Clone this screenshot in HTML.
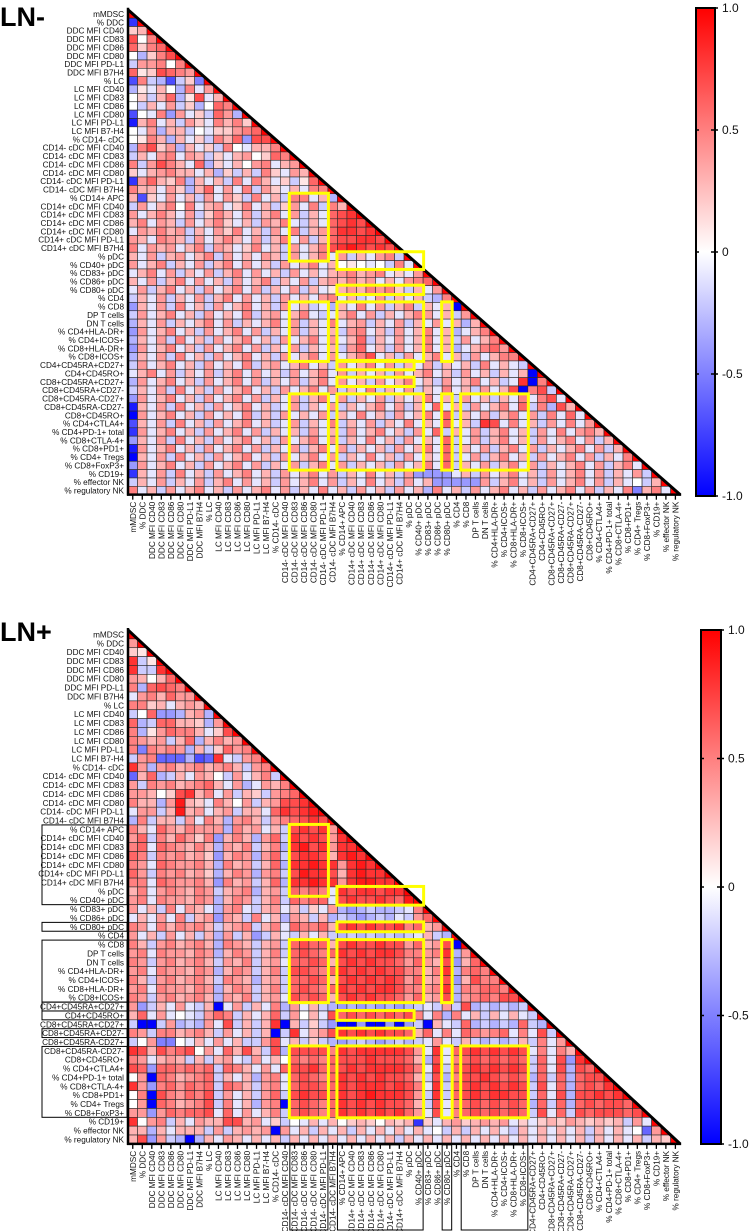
<!DOCTYPE html>
<html><head><meta charset="utf-8">
<style>
html,body{margin:0;padding:0;background:#fff;}
svg{display:block;font-family:"Liberation Sans",Arial,sans-serif;}
</style></head>
<body>
<svg id="fig" width="752" height="1231" viewBox="0 0 752 1231" xmlns="http://www.w3.org/2000/svg">
<defs>
<linearGradient id="cbar" x1="0" y1="0" x2="0" y2="1">
<stop offset="0" stop-color="#ff0000"/><stop offset="0.5" stop-color="#ffffff"/><stop offset="1" stop-color="#0000ff"/>
</linearGradient>
</defs>
<text x="0" y="26" font-size="27" font-weight="bold">LN-</text>
<text x="0" y="641" font-size="27" font-weight="bold">LN+</text>
</svg>
<script>
const labels = ["mMDSC","% DDC","DDC MFI CD40","DDC MFI CD83","DDC MFI CD86","DDC MFI CD80","DDC MFI PD-L1","DDC MFI B7H4","% LC","LC MFI CD40","LC MFI CD83","LC MFI CD86","LC MFI CD80","LC MFI PD-L1","LC MFI B7-H4","% CD14- cDC","CD14- cDC MFI CD40","CD14- cDC MFI CD83","CD14- cDC MFI CD86","CD14- cDC MFI CD80","CD14- cDC MFI PD-L1","CD14- cDC MFI B7H4","% CD14+ APC","CD14+ cDC MFI CD40","CD14+ cDC MFI CD83","CD14+ cDC MFI CD86","CD14+ cDC MFI CD80","CD14+ cDC MFI PD-L1","CD14+ cDC MFI B7H4","% pDC","% CD40+ pDC","% CD83+ pDC","% CD86+ pDC","% CD80+ pDC","% CD4","% CD8","DP T cells","DN T cells","% CD4+HLA-DR+","% CD4+ICOS+","% CD8+HLA-DR+","% CD8+ICOS+","CD4+CD45RA+CD27+","CD4+CD45RO+","CD8+CD45RA+CD27+","CD8+CD45RA+CD27-","CD8+CD45RA-CD27+","CD8+CD45RA-CD27-","CD8+CD45RO+","% CD4+CTLA4+","% CD4+PD-1+ total","% CD8+CTLA-4+","% CD8+PD1+","% CD4+ Tregs","% CD8+FoxP3+","% CD19+","% effector NK","% regulatory NK"];

// value codes: '0'-'9' => 0.0..0.9, 'X' => 1.0, 'a'-'j' => -0.1..-1.0 ; row r holds r off-diagonal cells
const lnMinusRows = ["h","23","705","6256","0c257","b4450 5","61276 54","g5bcg b2e","c1a30 c5a4","02b36 c17a3",
"0b3a4 b2c06 5","g0a5d 4a2b6 4c","i35a3 b42a5 352","0a4c3 3b0a2 2456","0153c 3a2b5 36d77","c5724 c3a2b 50a33 5","b3a45 a43b2 a3402 65","5b475 3a6c2 a3045 a34","2a345 33a3c 2b3b5 2a43","h4632 5c3a3 b5a53 a2b16",
"533a4 2c36a 4a5b4 2a3a5 5","3g2a4 a3b4a 42b5a 3b55a 3c","b4a35 05a34 a25a3 b24a5 b53","4a353 a4b25 3a4b3 5a4b3 a678","35a43 b4a35 2a3b4 35ab3 a6787","a4353 4b3a4 25a3b 4a5b3 46887 8","43a54 3b4a3 53a4b 35a4b 36778 87","5a434 a35b4 3a25a 3b4a3 57898 787","3a4b3 4a35b 4a3a4 3b4a3 5a4b3 a45b","4a35b 3a4b3 5a4a3 b4a35 a3010 a0b5a",
"a35a4 b3a4b 35a4a 3b4a3 a3453 45a2a 4","3a4b3 5a4a3 b4a35 b3a4b 34353 4a3a4 56","a4b35 a3b4a 35a4b 3a4b3 a1343 5452b 3a4","b3a4b 3a4b3 5a4a3 b4a3a 45a3b a4b3a 3bc5","d3a4b 5a3b4 a35a3 b4a3b ac3a5 a4b35 b3a3j","b4a35 a3b4a 3a5b3 4a35a ba35a 4b3a3 54a3b 4","c3a4b 3a35a 4b3a3 5a4b3 a5a34 b3a4b 3a4a3 c3","d4a35 a3b4a 35a4b 3a4b3 a3b45 a3b4a 35a3c a35","c3a4b 5a3b4 a35a3 b4a35 a4a36 b3a4a 35a3b 4a35","d4a35 a3b4a 35a4b 3a4b3 a3b46 a3b4a 35a3c a3564",
"c3a4b 5a3b4 a35a3 b4a35 a4a35 7a3b4 a35a3 b4a35 5","b4a35 a3b4a 3a5b3 4a35a 3b4a3 5a4b3 a4b3a 3b5a3 ab","a35a4 b3a4b 35a4a 3b4a3 5a4b3 a3b4a 35a3b 4a3b3 a3j","c4a35 a3b4a 35a4b 3a4b3 5a4a3 b4a35 a3b4a 35a3b a8j5","b3a4b 5a3b4 a35a3 b4a35 a4b3a 5b3a4 b3a5a 3b4a3 7j57b","d4a35 a3b4a 35a4b 3a4b3 5a4b3 a4b3a 35a3b 4a3b3 a5a57 a","i3a4b 5a3b4 a35a3 ba4b3 a4b3a 35a4b 3a6a3 b4a35 a6b5c 73","j4a35 a3b4a 3a5b3 b4a3a 4b3a5 a3b4a 35a6b 3a4b3 5a4b5 a6a","g3a4b 5a3b4 a35a3 ba4b3 a5b3a 4b3a5 a3a6a 3b87a 5a3b4 a5a4","h4a35 a3b4a 35a4b 3a3b4 a3b4a 35a3b 4a6b3 a4b35 a3b4a 5a453",
"d3a4b 5a3b4 a35a3 b4a35 a4b3a 5a3b4 a3a6b a4b35 a3b4a 35a4b 3","i4a35 a3b4a 35a4b 3a4b3 5a4b3 a3b4a 35a6b 3a4b3 5a4b3 a35a4 b3","j3a4b 5a3b4 a35a3 b4a35 a4b3a 5a3b4 a3a6b a4b35 a3b4a 35a4b 3a5","d4a35 a3b4a 35a4b 3a4b3 5a4b3 a3b4a 35a6b 3a4b3 5a4b3 a35a4 b35a","h3a4b 5a3b4 a35a3 b4a35 a4b3a 5a3b4 dddda 3b4a3 5a3b4 a35a4 b3a4b","b3a4b 3a4b3 5a4a3 b4a35 a4b3a 5a3b4 a3ddd dd4b3 5a3b4 a35a4 b3a0b 3","5a3b4 a35a3 b4a35 a4b3a 5a3b4 a3b4a 3c5a3 b4a35 a3b4a 35a4b 3a5e3 5a"];

const lnPlusRows = ["4","21","8b1","8bb8","43036","5c676 5","a4536 44","5523a 343","b06dd c34c","6cb66 332c4",
"5c146 553a2 7","5434b 36c35 34","5e545 4c3b2 645","b45ff fcgf8 ab45","84c45 34534 53b45","f36cb 3a430 b4a35 b","4b545 34563 a4ca4 35","44302 7835a 4b32b 456","533c4 932a5 304b3 4778","a44b3 934a3 4b33a 68789",
"c5b33 b4a53 c453b 45678 7","53a64 35444 c534a 3b787 84","46b53 6425d 353c4 6b878 748","56a65 4353c 435b3 5c897 8488","65b54 5342d 354c4 6b788 73898","54a65 4453c 534b3 6c889 88489 8","64b54 5342c 354c4 5b798 87389 88","55a65 4453d 534b3 6c889 88489 988","35a45 4354b 345c3 4b656 5a878 8788","45a54 4354c 354b3 5b656 6a787 78769",
"4a3b5 a43ac 45ab3 4a3b2 a4cdc bccba 5","a3a4a 5b34d 43b5a 3c43b 3cbcd cbcab 46","54a53 5453b 345b3 5a655 63787 87785 634","4a3b4 a3b3c 4b3db 3ab3a 3bcbc bcbcb a3bc","53b45 3453c 543b3 4b676 63787 78774 6347j","45a54 4354c 354b3 5b676 56878 78875 5458c 4","54b45 3453b 435b3 4a667 63787 87764 6437d 36","45a54 4354c 354b3 5b776 56878 78775 5358c 565","53b45 3453b 543c3 4b667 63787 87874 6347d 3755","45a54 4354c 354b3 5b676 56878 78875 5458c 55665",
"54b45 3453c 435b3 4a767 63787 87764 6347c 45657 7","4db3a 4ab3j a4b3a 5c4a3 bcdcd cdcdc bab4b 7cbcb cb","36a4a 0ab46 5b3a3 6b403 a7676 76767 5a5c5 a3b3a 3ab","bjjb4 cbc4a 7b3b3 8j3b2 bdjjd jjdjd bj3ab 6cbcb c6bc","54b55 3453b 4a3b3 jb8a3 47878 78776 36a5a 65456 a5a7b","b04ee 0a3a4 a3bb4 7a3b2 bcdcb cdcbc ba4ab 3bcbc b3b5a 4","87375 6704a 6373b 7c777 75878 88887 4a8a6 78787 87a5a 53","54a34 3b3b3 4ab4a 30656 56777 87776 3c7a5 67676 76b6a 7d8","76d66 5656b 653a4 a6778 66787 88887 5a8b6 78787 87b6a 7c76","04j65 3456b 3a3c4 5a676 56878 78776 3b7c5 77876 76c6b 6c677",
"84d56 4656b 653b4 5a677 66878 88787 5a8b6 78787 87b7a 6c676 8","05j75 4657b 4a3b4 6b787 76878 98887 4b8b6 78788 77b6a 7c778 78","04j65 3457b 5a3c4 5j676 56878 78776 3b7a5 67676 76c6b 6c676 776","44d46 5667a 6a4a3 5b676 56878 78786 4a7a5 67676 76b7a 6b767 7767","8045b 3a433 7734a 2b0a3 a3023 20323 h2a34 23434 a2a23 24323 23b4a","33c3a 333b4 b3434 j4a3b 3a3b3 a3a3a 3a0b3 b3a3a b3a3a 3a3b3 a3a0f 4","37d4b cjc3a 43a3a 3b3a3 a3a3a 3a3b3 a3a3a 3a3a3 a3a3a 3a3b3 a3a3b 32"];

const tickValues = [1, 0.5, 0, -0.5, -1];
const tickLabels = ["1.0","0.5","0","-0.5","-1.0"];

// yellow highlight boxes [rowStart,rowEnd,colStart,colEnd]
const boxesTop = [[22,29,17,20],[29,30,22,30],[33,33,22,30],[35,41,17,20],[35,41,22,30],[35,41,33,33],[42,42,22,29],[44,44,22,29],[46,54,17,20],[46,54,22,30],[46,54,33,33],[46,54,35,41]];
const boxesBottom = [[22,29,17,20],[29,30,22,30],[33,33,22,30],[35,41,17,20],[35,41,22,30],[35,41,33,33],[43,43,22,29],[45,45,22,29],[47,54,17,20],[47,54,22,30],[47,54,33,33],[47,54,35,41]];
const rowGroupsBottom = [[22,30],[33,33],[35,41],[42,42],[43,43],[45,45],[47,54]];
const colGroupsBottom = [[17,20],[22,30],[33,33],[35,41]];

const NS = "http://www.w3.org/2000/svg";
const svg = document.getElementById("fig");
function mk(tag, attrs, parent){ const e=document.createElementNS(NS,tag); for(const k in attrs) e.setAttribute(k,attrs[k]); (parent||svg).appendChild(e); return e; }
function decode(ch){
  if(ch===undefined) return 0;
  if(ch==='X') return 1;
  if(ch>='0'&&ch<='9') return (+ch)/10;
  const i="abcdefghij".indexOf(ch); return i>=0 ? -(i+1)/10 : 0;
}
function color(v){
  v=Math.max(-1,Math.min(1,v));
  if(v>=0){ const g=Math.round(255*(1-v)); return `rgb(255,${g},${g})`; }
  const g=Math.round(255*(1+v)); return `rgb(${g},${g},255)`;
}

function drawChart(cfg){
  const n=labels.length, x0=cfg.x0, y0=cfg.y0, cw=cfg.cw, rh=cfg.rh;
  const W=n*cw, H=n*rh;
  const xs=c=>x0+c*cw, ys=r=>y0+r*rh;
  const g=mk("g",{});
  
  
  for(let r=0;r<n;r++){
    const str = r>0 ? cfg.rows[r-1].replace(/\s/g,'') : '';
    for(let c=0;c<=r;c++){
      const v = c===r ? 1 : decode(str[c]);
      const rect=mk("rect",{x:xs(c),y:ys(r),width:cw,height:rh,fill:color(v),stroke:"#2a2a2a","stroke-width":0.6},g);
      
      
    }
  }
  // mask above diagonal
  mk("polygon",{points:`${x0},${y0} ${x0+W},${y0+H} ${x0+W+8},${y0+H} ${x0+W+8},${y0-8} ${x0},${y0-8}`,fill:"#fff"},g);
  const diag=mk("line",{x1:x0,y1:y0,x2:x0+W,y2:y0+H,stroke:"#000","stroke-width":3});
  
  
  const ya=mk("line",{x1:x0,y1:y0-2,x2:x0,y2:y0+H+1,stroke:"#000","stroke-width":2.5});
  
  
  const xa=mk("line",{x1:x0-1,y1:y0+H,x2:x0+W+1,y2:y0+H,stroke:"#000","stroke-width":2.5});
  
  
  for(let i=0;i<n;i++){
    const cx=xs(i)+cw/2;
    mk("line",{x1:cx,y1:y0+H,x2:cx,y2:y0+H+5,stroke:"#000","stroke-width":1.3});
    const rl=mk("text",{x:x0-4,y:ys(i)+rh/2+3,"text-anchor":"end","font-size":8.2,fill:"#111"});
    rl.textContent=labels[i];
    
    
    const cl=mk("text",{transform:`translate(${cx+3},${y0+H+7}) rotate(-90)`,"text-anchor":"end","font-size":8.2,fill:"#111"});
    cl.textContent=labels[i];
    
    
  }
  if(cfg.rowGroups){
    cfg.rowGroups.forEach(gp=>{
      const b=mk("rect",{x:42,y:ys(gp[0]),width:x0-1-42,height:(gp[1]-gp[0]+1)*rh,fill:"none",stroke:"#000","stroke-width":1});
      
      
    });
    cfg.colGroups.forEach(gp=>{
      const b=mk("rect",{x:xs(gp[0]),y:y0+H+1,width:(gp[1]-gp[0]+1)*cw,height:1230-(y0+H+1),fill:"none",stroke:"#000","stroke-width":1});
      
      
    });
  }
  cfg.boxes.forEach(bx=>{
    const b=mk("rect",{x:xs(bx[2])-0.5,y:ys(bx[0])-0.5,width:(bx[3]-bx[2]+1)*cw+1,height:(bx[1]-bx[0]+1)*rh+1,fill:"none",stroke:"#ffff00","stroke-width":3});
    
    
  });
  // colorbar
  const cb=cfg.cbar;
  const cr=mk("rect",{x:cb.x,y:cb.top,width:cb.w,height:cb.bottom-cb.top,fill:"url(#cbar)",stroke:"#000","stroke-width":2});
  
  
  const cys=v=>cb.top+(1-v)/2*(cb.bottom-cb.top);
  tickValues.forEach((v,i)=>{
    const y=cys(v);
    mk("line",{x1:cb.x+cb.w-4,y1:y,x2:cb.x+cb.w+3,y2:y,stroke:"#000","stroke-width":1.5});
    mk("line",{x1:cb.x-1,y1:y,x2:cb.x+3,y2:y,stroke:"#000","stroke-width":1.5});
    const t=mk("text",{x:cb.x+cb.w+7,y:y+4,"font-size":12,fill:"#111"});
    t.textContent=tickLabels[i];
    
    
  });
}

drawChart({name:"ln-minus",rows:lnMinusRows,x0:128,y0:9.8,cw:9.52,rh:8.36,boxes:boxesTop,
  cbar:{x:696,w:19,top:8,bottom:496}});
drawChart({name:"ln-plus",rows:lnPlusRows,x0:128,y0:630,cw:9.52,rh:8.86,boxes:boxesBottom,
  rowGroups:rowGroupsBottom,colGroups:colGroupsBottom,
  cbar:{x:701,w:20,top:630,bottom:1144}});
</script>
</body></html>
